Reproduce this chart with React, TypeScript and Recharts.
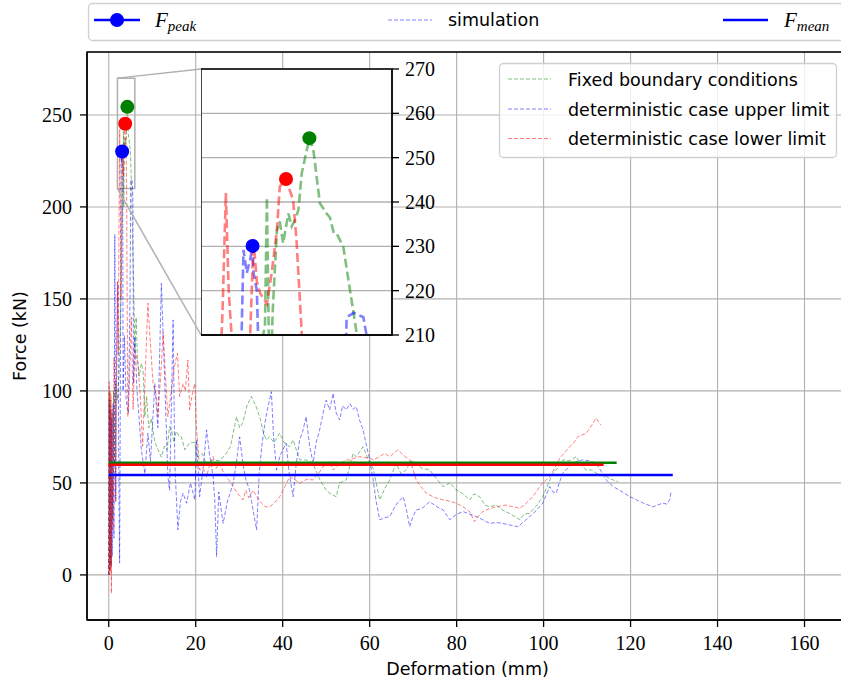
import React from 'react';
import { ComposedChart, Line, XAxis, YAxis, CartesianGrid, Scatter, ReferenceArea, ReferenceLine } from 'recharts';

// ---------- data ----------
const xTicks = [0, 20, 40, 60, 80, 100, 120, 140, 160];
const yTicks = [0, 50, 100, 150, 200, 250];
const insetXTicks = [2, 4, 6];
const insetYTicks = [210, 220, 230, 240, 250, 260, 270];

const fixedBC: [number, number][] = [
  [0, 0], [0.15, 100], [0.3, 2], [0.45, 95], [0.6, 5], [0.75, 88], [0.9, 30], [1.1, 100], [1.3, 60], [1.6, 105], [2.0, 95],
  [2.4, 110], [2.8, 150], [3.1, 190], [3.3, 210], [3.34, 212], [3.38, 241], [3.42, 210], [3.46, 200], [3.5, 215],
  [3.59, 233.7], [3.65, 235.6], [3.72, 230.7], [3.83, 237.4], [3.9, 234.5], [3.97, 236], [4.04, 238.2], [4.11, 246.5],
  [4.27, 254.4], [4.35, 252], [4.49, 239.7], [4.63, 237.4], [4.7, 236.5], [4.78, 233], [4.84, 232.9], [4.98, 229.9],
  [5.26, 210.4], [5.5, 180], [5.8, 150], [6.0, 122], [6.3, 140], [6.6, 118], [7.0, 108], [7.5, 115], [7.9, 111],
  [8.3, 86], [8.7, 97], [9.2, 80], [9.8, 85], [10.6, 72], [11.0, 70], [11.7, 66], [12.1, 64], [12.8, 70], [13.4, 68],
  [14.0, 80.6], [14.4, 79], [15.0, 72], [15.5, 78], [16.3, 75], [16.7, 75], [17.5, 68], [18.6, 71.7], [19.8, 72],
  [20.2, 64], [21.5, 66], [22.5, 60], [24, 62.5], [25.5, 62], [27, 66], [28, 70], [29.4, 86], [30.1, 80], [30.8, 82.6],
  [31.8, 92], [32.8, 97], [33.8, 92], [34.7, 86], [35.5, 78], [36.2, 73.4], [37, 75], [38, 72], [39.3, 77], [40.3, 72],
  [41.6, 69.7], [42.4, 73.4], [43.9, 62.5], [45.4, 62.5], [46.9, 60.7], [48.5, 52], [50, 46], [50.8, 44.4], [52.3, 42.5],
  [53.1, 50], [54.6, 51.6], [56.2, 66], [56.9, 64.3], [58.5, 69.7], [60, 60.7], [60.8, 58], [62.3, 40.8], [63.5, 47],
  [64.6, 51.6], [66.1, 60.7], [67.2, 55], [68.4, 57], [69.5, 62], [70.7, 60.7], [72, 58], [73.8, 57], [75.5, 52],
  [76.9, 48], [78.5, 50], [79.9, 46.2], [81.5, 44], [83, 40.8], [84, 44], [85.3, 42.5], [86.5, 38], [87.6, 37], [89, 38],
  [90.6, 35.3], [92.5, 33], [94.5, 30], [95.5, 33], [96.8, 33.5], [98.5, 38], [99.8, 42.5], [101, 49], [102.1, 55.3],
  [103.2, 58], [104.4, 62.5], [106, 62], [107.5, 64.3], [108.5, 60], [109.8, 57], [111, 57], [112.1, 55.3], [114, 54],
  [115.5, 52], [117.1, 50.7],
];

const upperLimit: [number, number][] = [
  [0, 0], [0.1, 95], [0.2, 3], [0.35, 90], [0.5, 5], [0.65, 85], [0.8, 10], [1.0, 93], [1.2, 20], [1.4, 185], [1.6, 40],
  [1.8, 120], [2.1, 158], [2.3, 60], [2.5, 6.5], [2.7, 120], [2.85, 210], [2.89, 229.2], [2.96, 224], [3.03, 227],
  [3.08, 230.1], [3.1, 224], [3.17, 220], [3.22, 200], [3.3, 100], [3.6, 130], [4.0, 95], [4.5, 88], [4.9, 150],
  [5.05, 214], [5.2, 215], [5.4, 214], [5.55, 205], [5.7, 104], [6.0, 129.5], [6.5, 100], [7.0, 85], [7.5, 68],
  [8.3, 55], [9.0, 77], [9.6, 62], [10.6, 104], [11.3, 80], [12.1, 158.5], [12.9, 104], [13.6, 53.4], [14.0, 46],
  [14.8, 138.6], [15.2, 60], [15.9, 24.5], [16.5, 40], [17.1, 44.4], [17.9, 39], [18.8, 50], [19.8, 40.8], [20.2, 73.4],
  [20.9, 42.5], [21.8, 60], [22.5, 78.8], [23.2, 65], [24, 53.4], [24.4, 40], [24.8, 10], [25.3, 45], [26.3, 28],
  [27.3, 40], [28.6, 49.8], [29.3, 60], [30.1, 75], [30.9, 60], [31.5, 52], [32.4, 46], [33.2, 35], [34, 24.5],
  [34.6, 55], [35.2, 70], [35.9, 82.4], [36.5, 90], [37.4, 99.6], [37.9, 75], [38.6, 57], [39.4, 65], [40.8, 71.6],
  [41.5, 55], [42.4, 42.5], [43.1, 60], [43.9, 73.4], [44.6, 78], [45.4, 86], [46.2, 70], [47, 60.7], [47.7, 72],
  [48.5, 78.8], [49.3, 88], [50, 95], [50.8, 89.7], [51.6, 98.7], [52.3, 88], [53.1, 84.2], [53.8, 92], [54.6, 89.7],
  [55.5, 93], [56.2, 90], [56.9, 91.5], [57.7, 84], [58.5, 78.8], [59.3, 70], [60, 62.5], [60.8, 51.6], [61.5, 40],
  [62.3, 30], [63.4, 31], [64.6, 31.7], [66, 38], [67.7, 42.5], [68.5, 35], [69.2, 26.2], [70, 32], [70.7, 35.3],
  [72, 36], [73.8, 39.8], [75.5, 37], [76.9, 35.3], [77.6, 33], [78.4, 30], [80, 33], [81.5, 34.4], [83, 33],
  [84.5, 31.7], [86, 30], [87.6, 28], [89, 28.5], [90.6, 28], [92.5, 27], [94.1, 26.2], [95.5, 29], [96.8, 31.7],
  [98.3, 35], [99.8, 39], [100.7, 44], [101.4, 48], [102.2, 45], [102.9, 44.4], [103.6, 50], [104.4, 55.3], [105.5, 58],
  [106.7, 60.7], [108, 62], [109, 62.5], [110.5, 62], [112.1, 60.7], [113.3, 56], [114.4, 51.6], [116, 48], [117.5, 46],
  [119.5, 43], [121.3, 40.8], [123, 39], [125.1, 37], [126.2, 38], [127.4, 39], [128.3, 38.5], [129, 40.8], [129.3, 45],
];

const lowerLimit: [number, number][] = [
  [0, 0], [0.1, 105], [0.2, 0], [0.3, 100], [0.4, 2], [0.5, 98], [0.6, -10], [0.75, 90], [0.9, 30], [1.0, 24.5],
  [1.2, 118], [1.4, 104], [1.6, 40], [1.8, 115], [2.0, 160], [2.2, 120], [2.35, 190], [2.45, 215], [2.52, 242],
  [2.58, 220], [2.64, 210], [2.8, 150], [3.03, 210], [3.1, 231.5], [3.17, 222], [3.24, 219.4], [3.38, 217], [3.48, 224],
  [3.59, 233.7], [3.65, 243.5], [3.78, 245.2], [3.93, 240.4], [4.0, 231.4], [4.11, 210.4], [4.3, 120], [4.4, 86],
  [4.7, 100], [5.2, 140], [5.6, 90], [6.0, 122], [6.7, 115], [7.3, 95], [7.8, 70], [8.4, 110], [9.0, 147.7], [9.6, 125],
  [10.2, 104], [11.0, 97], [11.3, 86], [12.0, 110], [12.5, 132], [13.0, 110], [13.6, 86], [14.4, 100], [15.0, 112],
  [15.6, 118.7], [15.8, 120.5], [16.3, 97], [17.1, 104], [17.6, 100], [18.2, 116.8], [18.6, 89.7], [19.2, 98],
  [19.8, 104], [20.2, 78.8], [20.6, 68], [20.9, 57], [21.7, 58], [22.5, 53.4], [23.2, 60], [24, 64.3], [24.7, 58],
  [25.5, 60.7], [26.5, 55], [27.5, 52], [28.6, 48], [29.7, 44], [30.9, 40.8], [31.5, 46], [32.2, 42], [33.2, 46],
  [34.2, 42], [35.1, 39], [36, 37], [37, 37], [38, 39], [39.3, 42.5], [40.5, 48], [41.6, 53.4], [42.7, 52], [43.9, 49.8],
  [45.5, 52], [47, 51.6], [48.2, 55], [49.3, 58.9], [50.8, 61.6], [51.6, 57], [53, 60], [54.6, 62.5], [55.4, 62.5],
  [57.7, 64.3], [60, 63.4], [60.8, 62.5], [62.3, 64.3], [63.4, 66], [64.6, 64.3], [65.5, 66], [66.5, 68], [67.8, 65],
  [69.2, 62.5], [70, 57], [70.7, 51.6], [71.8, 48], [73, 44.4], [75, 42], [76.9, 40.8], [78.5, 40], [79.9, 39],
  [81.5, 37], [83, 34.4], [84.1, 29], [85, 32], [86, 34.4], [87.5, 36], [89.1, 37], [91.4, 38], [93, 37], [94.5, 36.2],
  [95.6, 38], [96.8, 40.8], [98, 44], [99.1, 48], [100.3, 51], [101.4, 53.4], [102.6, 58], [103.7, 63.4], [105, 67],
  [106, 69.7], [107, 72], [107.9, 75.2], [108.8, 76], [109.8, 77], [111, 81], [112.1, 85.2], [112.7, 83], [113.2, 81.5],
];

// mean force lines: [start x, end x, value]
const meanGreen: [number, number, number] = [0, 116.8, 61.0];
const meanRed: [number, number, number] = [0, 113.8, 59.9];
const meanBlue: [number, number, number] = [0, 129.7, 54.3];

// peaks: [x, y]
const peakGreen: [number, number] = [4.27, 254.4];
const peakRed: [number, number] = [3.78, 245.2];
const peakBlue: [number, number] = [3.08, 230.1];

// zoom window of inset
const insetX: [number, number] = [2, 6];
const insetY: [number, number] = [210, 270];

// ---------- layout ----------
const CHART_W = 848;
const CHART_H = 687;
const PLOT = { left: 87, top: 52, right: 848, bottom: 620 };
const X_DOMAIN: [number, number] = [-5, 170];
const Y_DOMAIN: [number, number] = [-24.5, 284.2];
const INSET = { left: 201, top: 69, width: 191, height: 266 };
const INSET_PAD_TOP = 14;

const xInv = (px: number) => X_DOMAIN[0] + ((px - PLOT.left) / (PLOT.right - PLOT.left)) * (X_DOMAIN[1] - X_DOMAIN[0]);
const yInv = (py: number) => Y_DOMAIN[0] + ((PLOT.bottom - py) / (PLOT.bottom - PLOT.top)) * (Y_DOMAIN[1] - Y_DOMAIN[0]);

const toPts = (a: [number, number][]) => a.map(([x, y]) => ({ x, y }));
const meanPts = (m: [number, number, number]) => [{ x: m[0], y: m[2] }, { x: m[1], y: m[2] }];

const GREEN = '#008000';
const BLUE = '#0000ff';
const RED = '#ff0000';
const GRID = '#b0b0b0';
const SERIF = '"Liberation Serif", "DejaVu Serif", serif';
const SANS = '"DejaVu Sans", sans-serif';

const dot = (color: string) => (p: any) => <circle cx={p.cx} cy={p.cy} r={7} fill={color} />;

const sims = [
  { data: toPts(fixedBC), color: GREEN, key: 'g' },
  { data: toPts(upperLimit), color: BLUE, key: 'b' },
  { data: toPts(lowerLimit), color: RED, key: 'r' },
];
const means = [
  { data: meanPts(meanGreen), color: GREEN, key: 'mg' },
  { data: meanPts(meanRed), color: RED, key: 'mr' },
  { data: meanPts(meanBlue), color: BLUE, key: 'mb' },
];
const peaks = [
  { data: [{ x: peakGreen[0], y: peakGreen[1] }], color: GREEN, key: 'pg' },
  { data: [{ x: peakRed[0], y: peakRed[1] }], color: RED, key: 'pr' },
  { data: [{ x: peakBlue[0], y: peakBlue[1] }], color: BLUE, key: 'pb' },
];

function MainChart() {
  return (
    <ComposedChart width={CHART_W} height={CHART_H} margin={{ top: PLOT.top, right: CHART_W - PLOT.right, bottom: CHART_H - PLOT.bottom - 50, left: 0 }}>
      <CartesianGrid stroke={GRID} strokeWidth={1.1} />
      <XAxis type="number" dataKey="x" domain={X_DOMAIN} ticks={xTicks} allowDataOverflow height={50}
        tickSize={7} tickMargin={9} interval={0}
        tick={{ fontFamily: SERIF, fontSize: 20, fill: '#000' }}
        axisLine={{ stroke: '#000', strokeWidth: 1.3 }} tickLine={{ stroke: '#000', strokeWidth: 1.3 }} />
      <YAxis type="number" dataKey="y" domain={Y_DOMAIN} ticks={yTicks} allowDataOverflow width={PLOT.left}
        tickSize={7} tickMargin={8} interval={0}
        tick={{ fontFamily: SERIF, fontSize: 20, fill: '#000' }}
        axisLine={{ stroke: '#000', strokeWidth: 1.3 }} tickLine={{ stroke: '#000', strokeWidth: 1.3 }} />
      {sims.map((s) => (
        <Line key={s.key} data={s.data} dataKey="y" type="linear" stroke={s.color} strokeOpacity={0.5} strokeWidth={1}
          strokeDasharray="4 2" dot={false} activeDot={false} isAnimationActive={false} />
      ))}
      {means.map((s) => (
        <Line key={s.key} data={s.data} dataKey="y" type="linear" stroke={s.color} strokeWidth={2.5}
          dot={false} activeDot={false} isAnimationActive={false} />
      ))}
      <ReferenceArea x1={insetX[0]} x2={insetX[1]} y1={insetY[0]} y2={insetY[1]} fill="none" stroke={GRID} strokeWidth={1.5} />
      <ReferenceLine segment={[{ x: insetX[0], y: insetY[1] }, { x: xInv(INSET.left), y: yInv(INSET.top) }]} stroke={GRID} strokeWidth={1.5} />
      <ReferenceLine segment={[{ x: insetX[0], y: insetY[0] }, { x: xInv(INSET.left), y: yInv(INSET.top + INSET.height) }]} stroke={GRID} strokeWidth={1.5} />
      {peaks.map((p) => (
        <Scatter key={p.key} data={p.data} dataKey="y" fill={p.color} shape={dot(p.color)} isAnimationActive={false} />
      ))}
      <ReferenceArea x1={X_DOMAIN[0]} x2={X_DOMAIN[1]} y1={Y_DOMAIN[0]} y2={Y_DOMAIN[1]} fill="none" stroke="#000" strokeWidth={1.3} />
    </ComposedChart>
  );
}

function InsetChart() {
  const axisW = 60;
  const axisH = 20;
  return (
    <div style={{ position: 'absolute', left: INSET.left, top: INSET.top - INSET_PAD_TOP }}>
      <ComposedChart width={INSET.width + axisW} height={INSET.height + axisH + INSET_PAD_TOP} margin={{ top: INSET_PAD_TOP, right: 0, bottom: 0, left: 0 }}>
        <CartesianGrid stroke={GRID} strokeWidth={1.3} fill="#fff" fillOpacity={1} />
        <XAxis type="number" dataKey="x" domain={insetX} ticks={insetXTicks} allowDataOverflow height={axisH}
          tick={false} tickSize={7} interval={0}
          axisLine={{ stroke: '#000', strokeWidth: 1.3 }} tickLine={{ stroke: '#000', strokeWidth: 1.3 }} />
        <YAxis orientation="right" type="number" dataKey="y" domain={insetY} ticks={insetYTicks} allowDataOverflow width={axisW}
          tickSize={7} tickMargin={6} interval={0}
          tick={{ fontFamily: SERIF, fontSize: 20, fill: '#000', textAnchor: 'start' }}
          axisLine={{ stroke: '#000', strokeWidth: 1.3 }} tickLine={{ stroke: '#000', strokeWidth: 1.3 }} />
        {sims.map((s) => (
          <Line key={s.key} data={s.data} dataKey="y" type="linear" stroke={s.color} strokeOpacity={0.5} strokeWidth={2.6}
            strokeDasharray="9 4" dot={false} activeDot={false} isAnimationActive={false} />
        ))}
        {peaks.map((p) => (
          <Scatter key={p.key} data={p.data} dataKey="y" fill={p.color} shape={dot(p.color)} isAnimationActive={false} />
        ))}
        <ReferenceArea x1={insetX[0]} x2={insetX[1]} y1={insetY[0]} y2={insetY[1]} fill="none" stroke="#000" strokeWidth={1.3} />
      </ComposedChart>
    </div>
  );
}

function Overlay() {
  const rows = [
    { label: 'Fixed boundary conditions', color: GREEN, y: 79 },
    { label: 'deterministic case upper limit', color: BLUE, y: 109 },
    { label: 'deterministic case lower limit', color: RED, y: 138.5 },
  ];
  return (
    <svg width={CHART_W} height={CHART_H} style={{ position: 'absolute', left: 0, top: 0, pointerEvents: 'none' }}>
      {/* top legend */}
      <rect x={88.5} y={3.5} width={800} height={37} rx={4} fill="#fff" fillOpacity={0.8} stroke="#d0d0d0" strokeWidth={1.3} />
      <line x1={94} y1={20} x2={140} y2={20} stroke={BLUE} strokeWidth={2.5} />
      <circle cx={117} cy={20} r={7} fill={BLUE} />
      <text x={155} y={27} fontFamily={SERIF} fontStyle="italic" fontSize={21} fill="#000">
        F<tspan fontSize={15} dy={4}>peak</tspan>
      </text>
      <line x1={388} y1={20} x2={432} y2={20} stroke={BLUE} strokeOpacity={0.5} strokeWidth={1} strokeDasharray="4 2" />
      <text x={448} y={26} fontFamily={SANS} fontSize={17.5} fill="#000">simulation</text>
      <line x1={723} y1={20} x2={768} y2={20} stroke={BLUE} strokeWidth={2.5} />
      <text x={784} y={27} fontFamily={SERIF} fontStyle="italic" fontSize={21} fill="#000">
        F<tspan fontSize={15} dy={4}>mean</tspan>
      </text>
      {/* in-plot legend */}
      <rect x={499.5} y={63.5} width={337} height={94} rx={4} fill="#fff" fillOpacity={0.8} stroke="#d0d0d0" strokeWidth={1.3} />
      {rows.map((r) => (
        <g key={r.label}>
          <line x1={508} y1={r.y} x2={551} y2={r.y} stroke={r.color} strokeOpacity={0.5} strokeWidth={1} strokeDasharray="4 2" />
          <text x={568} y={r.y + 6.5} fontFamily={SANS} fontSize={17.5} fill="#000">{r.label}</text>
        </g>
      ))}
      {/* axis labels */}
      <text x={(PLOT.left + PLOT.right) / 2} y={675} textAnchor="middle" fontFamily={SANS} fontSize={17.5} fill="#000">Deformation (mm)</text>
      <text x={0} y={0} transform={`translate(26, ${(PLOT.top + PLOT.bottom) / 2}) rotate(-90)`} textAnchor="middle" fontFamily={SANS} fontSize={17.5} fill="#000">Force (kN)</text>
    </svg>
  );
}

export default function App() {
  return (
    <div style={{ position: 'absolute', left: 0, top: 0, width: 841, height: 687, overflow: 'hidden', background: '#fff' }}>
      <div style={{ position: 'absolute', left: 0, top: 0 }}>
        <MainChart />
      </div>
      <InsetChart />
      <Overlay />
    </div>
  );
}
